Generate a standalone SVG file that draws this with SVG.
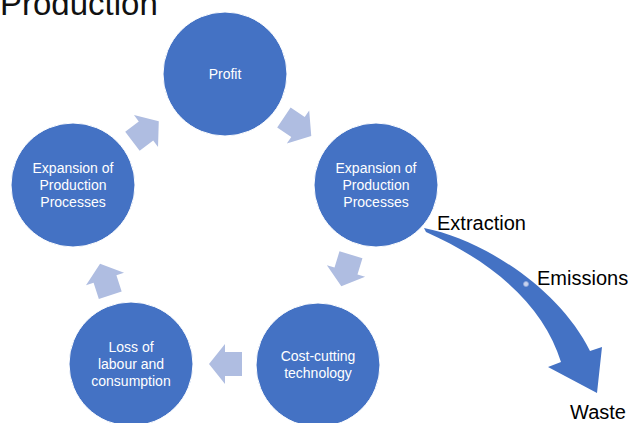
<svg xmlns="http://www.w3.org/2000/svg" width="629" height="423" viewBox="0 0 629 423">
<style>
.node circle{fill:#4472C4;stroke:#fff;stroke-width:1}
.node text{fill:#fff;font-family:"Liberation Sans",Arial,sans-serif;font-size:14px;text-anchor:middle}
.lbl{fill:#000;font-family:"Liberation Sans",Arial,sans-serif;font-size:20px}
.cyc{fill:#AFBDE1}
</style>
<defs>
<path id="blk" d="M-17,-12 L0,-12 L0,-20 L16,0 L0,20 L0,12 L-17,12 Z"/>
</defs>
<rect width="629" height="423" fill="#fff"/>
<text x="0" y="15" font-family="'Liberation Sans',Arial,sans-serif" font-size="33" fill="#111">Production</text>
<g id="connectors">
<use href="#blk" class="cyc" transform="translate(146,131) rotate(-37)"/>
<use href="#blk" class="cyc" transform="translate(298,127) rotate(34)"/>
<use href="#blk" class="cyc" transform="translate(346,271) rotate(107)"/>
<use href="#blk" class="cyc" transform="translate(225,364) rotate(180)"/>
<use href="#blk" class="cyc" transform="translate(105,279) rotate(-108)"/>
<path id="flow" d="M424,228 C485,240 560,290 590,351 L602,347 L597,393 L548,367 L561,362 C545,310 500,265 426,232 Z" fill="#4472C4"/>
<circle cx="526" cy="284" r="2.5" fill="#C9D3EE" stroke="#8FA7DA" stroke-width="0.8"/>
</g>
<g id="profit" class="node"><circle cx="225" cy="74" r="62"/><text x="225" y="79">Profit</text></g>
<g id="expansion-right" class="node"><circle cx="376" cy="185" r="62"/><text x="376" y="173">Expansion of</text><text x="376" y="190">Production</text><text x="376" y="207">Processes</text></g>
<g id="cost-cutting" class="node"><circle cx="318" cy="365" r="62"/><text x="318" y="361">Cost-cutting</text><text x="318" y="378">technology</text></g>
<g id="loss" class="node"><circle cx="131" cy="364" r="62"/><text x="131" y="352">Loss of</text><text x="131" y="369">labour and</text><text x="131" y="386">consumption</text></g>
<g id="expansion-left" class="node"><circle cx="73" cy="185" r="62"/><text x="73" y="173">Expansion of</text><text x="73" y="190">Production</text><text x="73" y="207">Processes</text></g>
<text class="lbl" x="437" y="230">Extraction</text>
<text class="lbl" x="537" y="285">Emissions</text>
<text class="lbl" x="570" y="419">Waste</text>
</svg>
